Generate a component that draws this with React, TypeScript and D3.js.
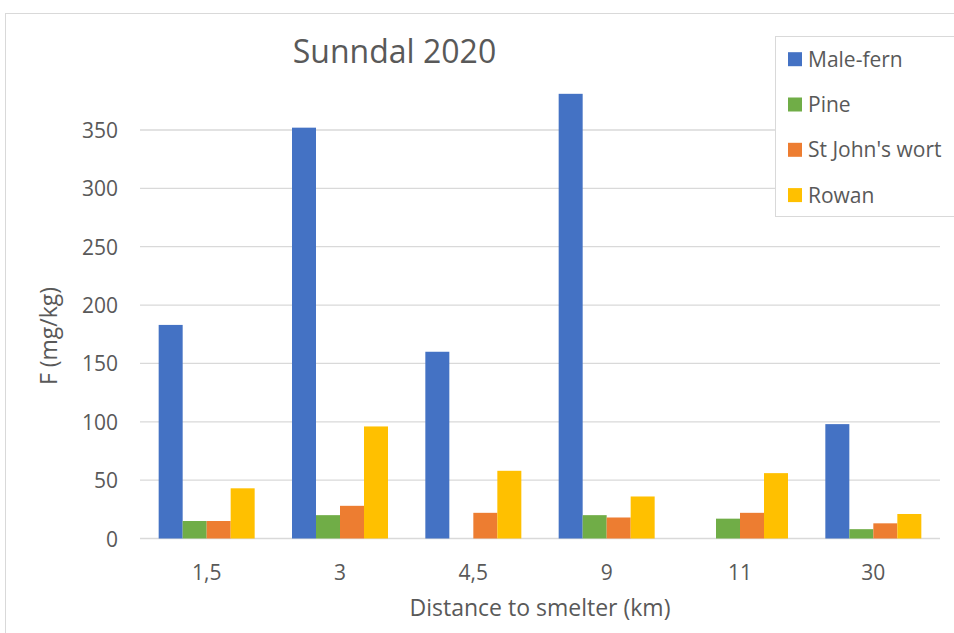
import { useEffect, useRef } from "react"
import * as d3 from "d3"

const distances = ["1,5", "3", "4,5", "9", "11", "30"]
const series = ["Male-fern", "Pine", "St John's wort", "Rowan"]
const maleFern = [183, 352, 160, 381, 0, 98]
const pine = [15, 20, 0, 20, 17, 8]
const stJohnsWort = [15, 28, 22, 18, 22, 13]
const rowan = [43, 96, 58, 36, 56, 21]
const yTicks = [0, 50, 100, 150, 200, 250, 300, 350]
const colors = ["#4472c4", "#70ad47", "#ed7d31", "#ffc000"]

const App = () => {
	const svgRef = useRef(null)

	useEffect(() => {
		const svg = d3.select(svgRef.current)
		svg.selectAll("*").remove()

		const width = 954
		const height = 633
		const font = "'Open Sans', 'Noto Sans', sans-serif"
		const textColor = "#595959"
		const values = [maleFern, pine, stJohnsWort, rowan]

		svg.attr("width", width).attr("height", height)

		// chart frame
		svg.append("rect")
			.attr("x", 5.5)
			.attr("y", 13.5)
			.attr("width", 1000)
			.attr("height", 700)
			.attr("fill", "white")
			.attr("stroke", "#d9d9d9")

		const x0 = d3.scaleBand().domain(distances).range([140, 940]).paddingInner(0.28).paddingOuter(0.14)
		const x1 = d3.scaleBand().domain(series).range([0, x0.bandwidth()])
		const y = d3.scaleLinear().domain([0, 350]).range([538.5, 130])

		// gridlines
		svg.append("g")
			.selectAll("line")
			.data(yTicks)
			.enter()
			.append("line")
			.attr("x1", 140)
			.attr("x2", 940)
			.attr("y1", d => y(d))
			.attr("y2", d => y(d))
			.attr("stroke", "#d9d9d9")
			.attr("stroke-width", 1.3)

		// y tick labels
		svg.append("g")
			.selectAll("text")
			.data(yTicks)
			.enter()
			.append("text")
			.attr("x", 118)
			.attr("y", d => y(d) + 8)
			.attr("text-anchor", "end")
			.attr("font-family", font)
			.attr("font-size", 21)
			.attr("fill", textColor)
			.text(d => d)

		// bars
		const groups = svg.append("g")
			.selectAll("g")
			.data(distances)
			.enter()
			.append("g")
			.attr("transform", d => "translate(" + x0(d) + ",0)")

		groups.selectAll("rect")
			.data((d, i) => series.map((s, j) => ({ s, j, v: values[j][i] })))
			.enter()
			.append("rect")
			.filter(d => d.v > 0)
			.attr("x", d => x1(d.s) as number)
			.attr("width", x1.bandwidth())
			.attr("y", d => y(d.v))
			.attr("height", d => y(0) - y(d.v))
			.attr("fill", d => colors[d.j])

		// x tick labels
		svg.append("g")
			.selectAll("text")
			.data(distances)
			.enter()
			.append("text")
			.attr("x", d => (x0(d) as number) + x0.bandwidth() / 2)
			.attr("y", 580)
			.attr("text-anchor", "middle")
			.attr("font-family", font)
			.attr("font-size", 21)
			.attr("fill", textColor)
			.text(d => d)

		// axis titles
		svg.append("text")
			.attr("x", 540)
			.attr("y", 616)
			.attr("text-anchor", "middle")
			.attr("font-family", font)
			.attr("font-size", 23)
			.attr("fill", textColor)
			.text("Distance to smelter (km)")

		svg.append("text")
			.attr("transform", "translate(57,336) rotate(-90)")
			.attr("text-anchor", "middle")
			.attr("font-family", font)
			.attr("font-size", 23)
			.attr("fill", textColor)
			.text("F (mg/kg)")

		// title
		svg.append("text")
			.attr("x", 394.5)
			.attr("y", 63)
			.attr("text-anchor", "middle")
			.attr("font-family", font)
			.attr("font-size", 32)
			.attr("fill", textColor)
			.text("Sunndal 2020")

		// legend
		const legend = svg.append("g")
		legend.append("rect")
			.attr("x", 775.5)
			.attr("y", 36.5)
			.attr("width", 200)
			.attr("height", 180)
			.attr("fill", "white")
			.attr("stroke", "#d9d9d9")

		const items = legend.selectAll("g.item")
			.data(series)
			.enter()
			.append("g")
			.attr("transform", (d, i) => "translate(788," + (66.7 + i * 45.3) + ")")

		items.append("rect")
			.attr("x", 0)
			.attr("y", -14.5)
			.attr("width", 14)
			.attr("height", 14)
			.attr("fill", (d, i) => colors[i])

		items.append("text")
			.attr("x", 20)
			.attr("font-family", font)
			.attr("font-size", 21)
			.attr("fill", textColor)
			.text(d => d)
	}, [])

	return <svg ref={svgRef} style={{ position: "absolute", left: 0, top: 0 }}></svg>
}

export default App
